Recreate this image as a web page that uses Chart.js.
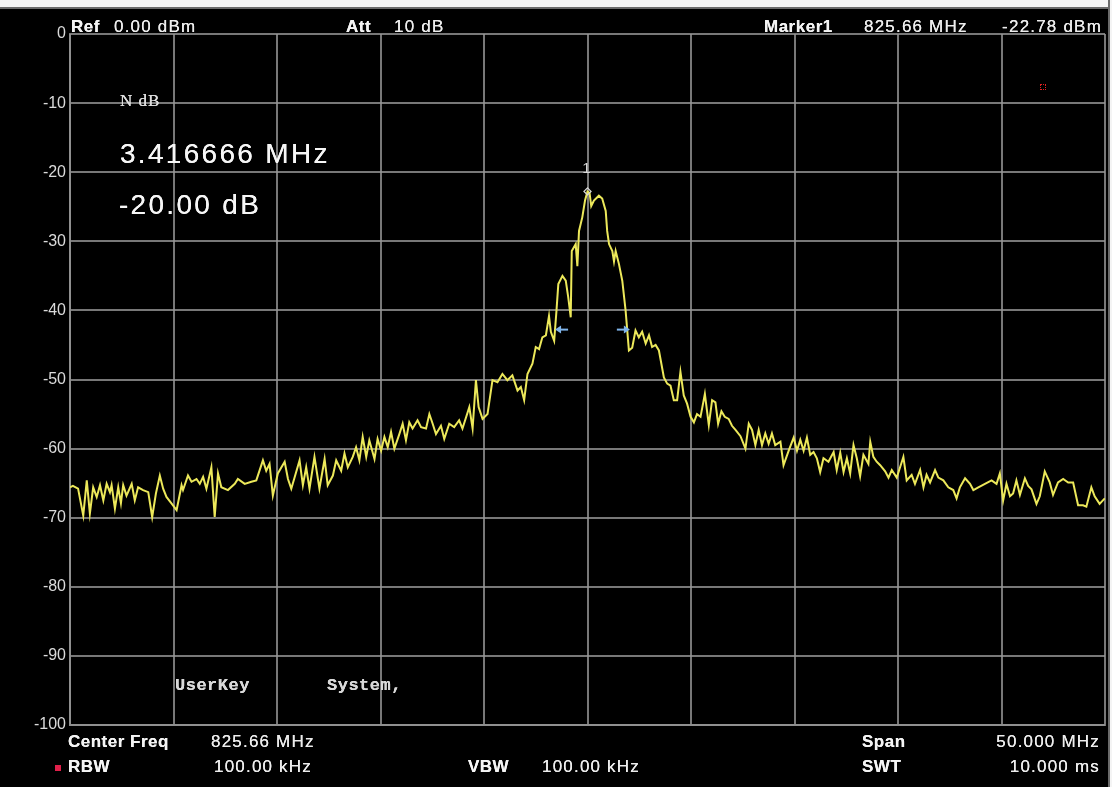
<!DOCTYPE html>
<html>
<head>
<meta charset="utf-8">
<script src="https://cdn.jsdelivr.net/npm/chart.js@4.4.0/dist/chart.umd.min.js"></script>
<style>
  html, body { margin: 0; padding: 0; background: #000; }
  #wrap { position: relative; width: 1112px; height: 787px; background: #000; overflow: hidden; }
  #spec { position: absolute; left: 0; top: 0; }
  #edgeTop { position: absolute; left: 0; top: 0; width: 1112px; height: 7px; background: #f4f4f4; border-bottom: 2px solid #6a6a6a; }
  #edgeRight { position: absolute; right: 0; top: 0; width: 2px; height: 787px; background: #f4f4f4; border-left: 2px solid #6a6a6a; }
  .t { position: absolute; color: #ececec; font-family: "Liberation Sans", Arial, sans-serif; font-size: 17px; letter-spacing: 1.2px; white-space: nowrap; line-height: 1; text-shadow: 0 0 0.6px #fff; }
  .b { font-weight: bold; color: #f4f4f4; letter-spacing: 0.5px; }
  .big { font-size: 28px; letter-spacing: 2.3px; color: #f6f6f6; }
  .serif { font-family: "Liberation Serif", "DejaVu Serif", serif; font-size: 17px; letter-spacing: 1px; color: #dcdcdc; }
  .mono { font-family: "Liberation Mono", "DejaVu Sans Mono", monospace; font-size: 17px; letter-spacing: 0.5px; color: #d8d8d8; font-weight: bold; }
  #rbwDot { position: absolute; left: 55px; top: 765px; width: 6px; height: 6px; background: #e0204a; }
  #redMark { position: absolute; left: 1040px; top: 84px; width: 6px; height: 6px; border: 1px dotted #e02020; box-sizing: border-box; }
</style>
</head>
<body>
<div id="wrap">
  <canvas id="spec" width="1112" height="787"></canvas>
  <div id="edgeTop"></div>
  <div id="edgeRight"></div>

  <div class="t b" style="left:71px; top:18px;">Ref</div>
  <div class="t" style="left:114px; top:18px;">0.00 dBm</div>
  <div class="t b" style="left:346px; top:18px;">Att</div>
  <div class="t" style="left:394px; top:18px;">10 dB</div>
  <div class="t b" style="left:764px; top:18px;">Marker1</div>
  <div class="t" style="left:864px; top:18px;">825.66 MHz</div>
  <div class="t" style="right:10px; top:18px;">-22.78 dBm</div>

  <div class="t serif" style="left:120px; top:92px;">N dB</div>
  <div class="t big" style="left:120px; top:140px;">3.416666 MHz</div>
  <div class="t big" style="left:119px; top:191px;">-20.00 dB</div>
  <div id="redMark"></div>

  <div class="t mono" style="left:175px; top:677px;">UserKey</div>
  <div class="t mono" style="left:327px; top:677px;">System,</div>

  <div class="t b" style="left:68px; top:733px;">Center Freq</div>
  <div class="t" style="left:211px; top:733px;">825.66 MHz</div>
  <div class="t b" style="left:862px; top:733px;">Span</div>
  <div class="t" style="right:12px; top:733px;">50.000 MHz</div>

  <div id="rbwDot"></div>
  <div class="t b" style="left:68px; top:758px;">RBW</div>
  <div class="t" style="left:214px; top:758px;">100.00 kHz</div>
  <div class="t b" style="left:468px; top:758px;">VBW</div>
  <div class="t" style="left:542px; top:758px;">100.00 kHz</div>
  <div class="t b" style="left:862px; top:758px;">SWT</div>
  <div class="t" style="right:12px; top:758px;">10.000 ms</div>
</div>

<script>
// sweep settings
const centerFreq = 825.66;
const spanMHz = 50;
const startFreq = centerFreq - spanMHz / 2;
const stopFreq = centerFreq + spanMHz / 2;
const refLevel = 0;
const bottomLevel = -100;

// trace (MHz, dBm)
const freqMHz = [
  800.66, 800.80, 801.05, 801.30, 801.47, 801.62, 801.78, 801.95, 802.11, 802.27,
  802.43, 802.59, 802.67, 802.83, 802.99, 803.12, 803.23, 803.39, 803.64, 803.79,
  803.95, 804.19, 804.44, 804.63, 804.81, 805.00, 805.16, 805.32, 805.58, 805.81,
  806.05, 806.12, 806.36, 806.53, 806.77, 806.93, 807.09, 807.25, 807.49, 807.65,
  807.81, 807.97, 808.29, 808.62, 808.77, 809.10, 809.42, 809.66, 809.98, 810.14,
  810.30, 810.46, 810.70, 811.03, 811.19, 811.35, 811.75, 811.91, 812.07, 812.23,
  812.47, 812.71, 812.96, 813.11, 813.36, 813.52, 813.76, 813.92, 814.08, 814.32,
  814.48, 814.64, 814.80, 814.97, 815.12, 815.37, 815.52, 815.69, 815.85, 816.01,
  816.17, 816.33, 816.57, 816.73, 816.89, 817.05, 817.21, 817.45, 817.62, 817.86,
  818.02, 818.18, 818.34, 818.58, 818.74, 818.98, 819.22, 819.46, 819.62, 819.95,
  820.11, 820.27, 820.40, 820.59, 820.83, 821.07, 821.31, 821.55, 821.79, 822.03,
  822.28, 822.44, 822.60, 822.76, 823.00, 823.16, 823.32, 823.48, 823.65, 823.80,
  823.89, 824.05, 824.16, 824.25, 824.45, 824.61, 824.73, 824.85, 824.90, 825.09,
  825.17, 825.25, 825.41, 825.54, 825.66, 825.76, 825.84, 825.97, 826.21, 826.37,
  826.54, 826.61, 826.70, 826.86, 826.94, 827.02, 827.18, 827.34, 827.50, 827.58,
  827.66, 827.82, 827.98, 828.14, 828.30, 828.47, 828.63, 828.78, 828.95, 829.11,
  829.35, 829.51, 829.67, 829.83, 829.99, 830.15, 830.31, 830.47, 830.64, 830.80,
  830.95, 831.12, 831.33, 831.52, 831.68, 831.84, 831.97, 832.13, 832.29, 832.48,
  832.64, 832.81, 833.05, 833.29, 833.45, 833.61, 833.77, 833.93, 834.09, 834.25,
  834.41, 834.57, 834.73, 834.98, 835.13, 835.38, 835.62, 835.78, 835.94, 836.10,
  836.26, 836.42, 836.58, 836.74, 836.90, 837.06, 837.30, 837.55, 837.70, 837.87,
  838.03, 838.19, 838.35, 838.51, 838.67, 838.83, 838.99, 839.23, 839.32, 839.47,
  839.63, 839.80, 840.04, 840.20, 840.36, 840.60, 840.76, 840.92, 841.08, 841.32,
  841.48, 841.73, 841.89, 842.04, 842.21, 842.45, 842.61, 842.85, 843.09, 843.33,
  843.49, 843.65, 843.90, 844.14, 844.30, 844.54, 844.86, 845.18, 845.42, 845.58,
  845.74, 845.90, 846.07, 846.22, 846.38, 846.55, 846.79, 846.95, 847.11, 847.35,
  847.51, 847.75, 847.99, 848.15, 848.39, 848.64, 848.88, 849.12, 849.36, 849.60,
  849.76, 850.00, 850.16, 850.40, 850.65
];

const levelDbm = [
  -65.6, -65.4, -65.8, -69.7, -64.6, -69.4, -65.6, -67.0, -65.3, -67.5,
  -65.1, -66.3, -65.3, -68.7, -65.6, -67.9, -65.3, -66.8, -65.1, -67.5,
  -65.6, -66.0, -66.3, -69.9, -66.5, -63.9, -65.8, -67.0, -68.0, -68.9,
  -65.3, -66.0, -63.9, -64.8, -64.4, -65.1, -64.1, -65.8, -62.7, -69.9,
  -63.6, -65.6, -66.0, -65.1, -64.4, -65.1, -64.8, -64.6, -61.7, -63.2,
  -62.2, -66.8, -63.6, -61.9, -64.4, -65.8, -61.7, -65.3, -62.7, -65.8,
  -61.2, -65.8, -61.5, -65.3, -63.9, -61.7, -63.2, -60.7, -62.7, -61.2,
  -59.8, -61.7, -58.3, -61.2, -58.8, -61.5, -58.6, -60.3, -58.3, -59.8,
  -57.6, -60.0, -57.9, -56.4, -58.8, -56.2, -57.1, -55.9, -56.9, -57.1,
  -55.0, -56.4, -57.9, -56.7, -58.6, -56.4, -56.9, -55.9, -57.1, -54.0,
  -57.1, -50.1, -54.0, -55.7, -55.0, -50.1, -50.4, -49.2, -50.1, -49.4,
  -51.6, -51.1, -53.0, -49.2, -47.7, -45.3, -45.6, -43.9, -43.6, -40.8,
  -43.1, -44.4, -40.1, -36.2, -35.0, -35.7, -38.1, -41.0, -31.4, -30.4,
  -33.6, -28.5, -26.5, -24.1, -22.78, -23.0, -24.9, -24.1, -23.4, -23.8,
  -25.6, -28.5, -30.4, -31.4, -32.9, -31.4, -33.3, -35.7, -40.0, -42.9,
  -45.8, -45.4, -42.9, -43.9, -43.1, -44.8, -43.6, -45.3, -45.0, -45.8,
  -49.7, -50.6, -50.9, -53.0, -53.0, -48.9, -52.3, -53.5, -55.4, -56.2,
  -55.0, -55.4, -52.1, -56.6, -53.0, -53.3, -56.4, -54.6, -55.4, -55.7,
  -56.7, -57.3, -58.2, -60.0, -56.4, -57.3, -59.5, -57.3, -59.5, -57.8,
  -59.3, -57.8, -59.5, -59.0, -62.4, -60.3, -58.4, -60.3, -58.7, -60.3,
  -58.4, -60.9, -60.5, -61.4, -63.4, -61.4, -61.9, -60.5, -63.1, -60.6,
  -63.4, -61.4, -63.6, -59.5, -61.4, -64.0, -60.9, -62.2, -59.0, -61.2,
  -61.9, -62.4, -63.3, -64.2, -63.1, -64.2, -62.7, -61.2, -64.6, -63.8,
  -65.1, -63.1, -65.6, -63.8, -64.9, -63.1, -64.2, -64.6, -65.6, -66.0,
  -67.2, -65.6, -64.3, -65.1, -66.0, -65.6, -65.1, -64.6, -65.1, -63.6,
  -67.5, -65.1, -66.9, -66.5, -64.6, -66.7, -64.3, -65.4, -65.9, -68.0,
  -66.9, -63.3, -64.9, -66.7, -64.9, -64.4, -64.9, -64.9, -68.2, -68.2,
  -68.4, -65.6, -66.9, -68.0, -67.2
];

// marker 1 and the N dB points
const markerFreq = 825.66;
const markerLevel = -22.78;
const nDbFreqs = [824.19, 827.61];
const nDbLevel = markerLevel - 20;

const gridColor = "rgba(150,150,150,0.8)";

// draws the marker label "1" and the blue N dB arrows
const markerDecor = {
    id: "markerDecor",
    afterDatasetsDraw(chart) {
        const ctx = chart.ctx;
        const xs = chart.scales.x, ys = chart.scales.y;
        const mx = xs.getPixelForValue(markerFreq);
        const my = ys.getPixelForValue(markerLevel);
        ctx.save();
        ctx.fillStyle = "#d8d8d8";
        ctx.font = "15px 'Liberation Sans', Arial, sans-serif";
        ctx.textAlign = "center";
        ctx.textBaseline = "bottom";
        ctx.fillText("1", mx - 1, my - 15);

        ctx.strokeStyle = "#7fb4ea";
        ctx.fillStyle = "#7fb4ea";
        ctx.lineWidth = 2;
        const ay = ys.getPixelForValue(nDbLevel);
        nDbFreqs.forEach((f, k) => {
            const ax = xs.getPixelForValue(f);
            const dir = k === 0 ? -1 : 1;   // left arrow points left, right one points right
            const tip = ax + dir * 2;
            ctx.beginPath();
            ctx.moveTo(tip, ay);
            ctx.lineTo(tip - dir * 6, ay - 4);
            ctx.lineTo(tip - dir * 6, ay + 4);
            ctx.closePath();
            ctx.fill();
            ctx.beginPath();
            ctx.moveTo(tip - dir * 5, ay);
            ctx.lineTo(tip - dir * 13, ay);
            ctx.stroke();
        });
        ctx.restore();
    }
};

new Chart(document.getElementById("spec"), {
    type: "scatter",
    data: {
        datasets: [
            {
                data: [{ x: markerFreq, y: markerLevel }],
                pointStyle: "rectRot",
                pointRadius: 3.5,
                borderColor: "#d8d8d8",
                backgroundColor: "rgba(0,0,0,0)",
                borderWidth: 1.3,
                order: 0
            },
            {
                data: freqMHz.map((f, i) => ({ x: f, y: levelDbm[i] })),
                showLine: true,
                borderColor: "#ece85a",
                borderWidth: 2,
                pointRadius: 0,
                tension: 0,
                order: 1
            }
        ]
    },
    options: {
        responsive: false,
        animation: false,
        events: [],
        layout: { padding: { top: 34, bottom: 62, right: 7, left: 0 } },
        plugins: { legend: { display: false }, tooltip: { enabled: false } },
        scales: {
            x: {
                type: "linear",
                min: startFreq,
                max: stopFreq,
                afterBuildTicks: axis => {
                    axis.ticks = [];
                    for (let k = 0; k <= 10; k++) axis.ticks.push({ value: startFreq + k * spanMHz / 10 });
                },
                afterFit: axis => { axis.height = 0; },
                ticks: { display: false },
                grid: { color: gridColor, lineWidth: 2, drawTicks: false },
                border: { color: gridColor, width: 2 }
            },
            y: {
                min: bottomLevel,
                max: refLevel,
                afterFit: axis => { axis.width = 70; },
                ticks: {
                    stepSize: 10,
                    color: "#dadada",
                    padding: 4,
                    font: { family: "'Liberation Sans', Arial, sans-serif", size: 16 }
                },
                grid: { color: gridColor, lineWidth: 2, drawTicks: false },
                border: { color: gridColor, width: 2 }
            }
        }
    },
    plugins: [markerDecor]
});
</script>
</body>
</html>
